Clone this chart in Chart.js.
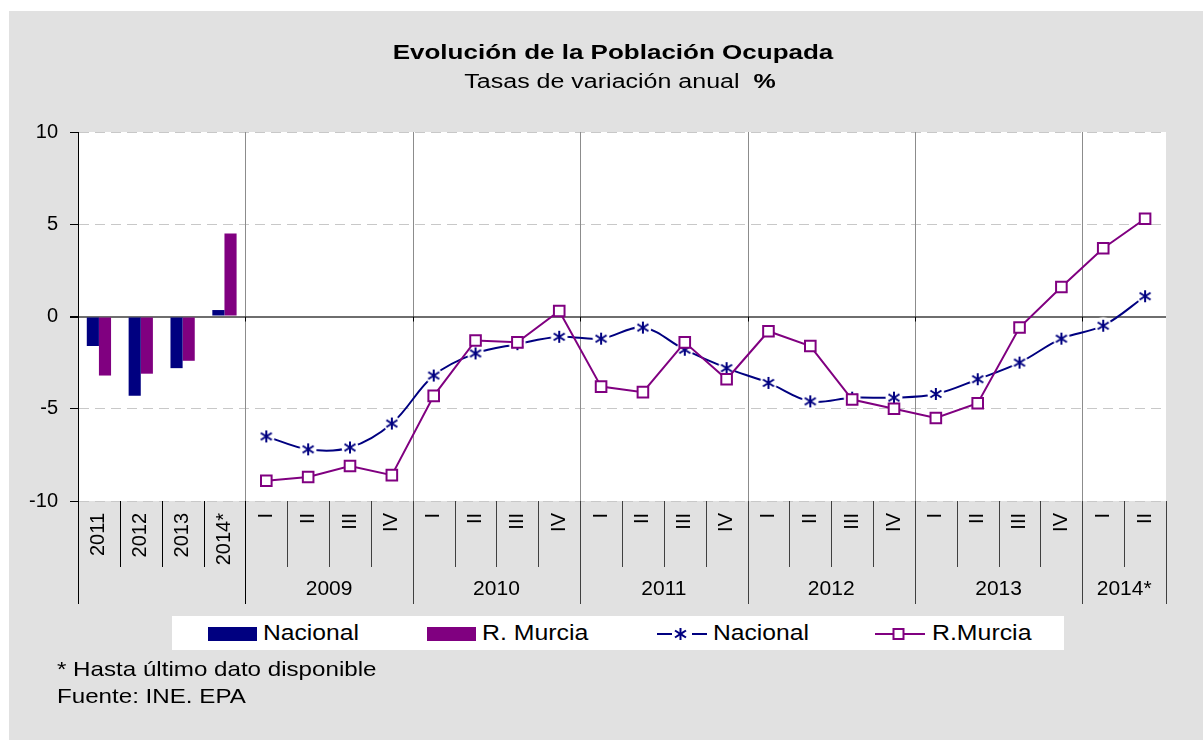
<!DOCTYPE html>
<html lang="es">
<head>
<meta charset="utf-8">
<title>Evolución de la Población Ocupada</title>
<script src="https://cdn.jsdelivr.net/npm/chart.js@4.4.1/dist/chart.umd.min.js"></script>
<style>
  html, body { margin: 0; width: 1203px; height: 740px; overflow: hidden; background: #fff; }
  body { font-family: 'Liberation Sans', Arial, sans-serif; position: relative; }
  #frame { position: absolute; left: 9px; top: 11px; right: 0; bottom: 0; background: #e1e1e1; }
  #chart { position: absolute; left: 0; top: 0; }
  .txt { position: absolute; white-space: nowrap; line-height: 1; color: #000; }
  .left { transform-origin: 0 0; }
  #legend { position: absolute; left: 172px; top: 616px; width: 892px; height: 34px; background: #fff; }
  .sw { position: absolute; top: 627px; width: 49px; height: 14px; }
</style>
</head>
<body>
<div id="frame"></div>
<canvas id="chart" width="1203" height="740"></canvas>

<div class="txt" style="left:613px; top:42px; font-size:20px; font-weight:bold; transform:translateX(-50%) scaleX(1.3);">Evolución de la Población Ocupada</div>
<div class="txt" style="left:620px; top:71px; font-size:20px; transform:translateX(-50%) scaleX(1.25);">Tasas de variación anual&nbsp; <b>%</b></div>

<div id="legend"></div>
<div class="sw" style="left:208px; background:#000080;"></div>
<div class="txt left" style="left:263px; top:622px; font-size:22px; transform:scaleX(1.12);">Nacional</div>
<div class="sw" style="left:427px; background:#800080;"></div>
<div class="txt left" style="left:482px; top:622px; font-size:22px; transform:scaleX(1.13);">R. Murcia</div>
<svg style="position:absolute; left:655px; top:624px;" width="54" height="20">
  <line x1="2" y1="10" x2="17" y2="10" stroke="#000080" stroke-width="2"/>
  <line x1="37" y1="10" x2="52" y2="10" stroke="#000080" stroke-width="2"/>
  <g stroke="#000080" stroke-width="2">
    <line x1="25.5" y1="4" x2="25.5" y2="16"/>
    <line x1="20" y1="6.5" x2="31" y2="13.5"/>
    <line x1="20" y1="13.5" x2="31" y2="6.5"/>
  </g>
</svg>
<div class="txt left" style="left:713px; top:622px; font-size:22px; transform:scaleX(1.12);">Nacional</div>
<svg style="position:absolute; left:873px; top:624px;" width="54" height="20">
  <line x1="2" y1="10" x2="52" y2="10" stroke="#800080" stroke-width="2"/>
  <rect x="20.5" y="5" width="10" height="10" fill="#fff" stroke="#800080" stroke-width="2"/>
</svg>
<div class="txt left" style="left:932px; top:622px; font-size:22px; transform:scaleX(1.13);">R.Murcia</div>

<div class="txt left" style="left:57px; top:658px; font-size:21px; transform:scaleX(1.15);">* Hasta último dato disponible</div>
<div class="txt left" style="left:57px; top:685px; font-size:21px; transform:scaleX(1.15);">Fuente: INE. EPA</div>

<script>
const annualLabels = ['2011', '2012', '2013', '2014*'];
const quarterLabels = ['I', 'II', 'III', 'IV', 'I', 'II', 'III', 'IV', 'I', 'II', 'III', 'IV',
                       'I', 'II', 'III', 'IV', 'I', 'II', 'III', 'IV', 'I', 'II'];
const yearGroups = ['2009', '2010', '2011', '2012', '2013', '2014*'];
const yearGroupSizes = [4, 4, 4, 4, 4, 2];

// media anual
const barNacional = [-1.6, -4.3, -2.8, 0.35];
const barMurcia = [-3.2, -3.1, -2.4, 4.5];

// trimestral 2009 I - 2014 II
const lineNacional = [-6.5, -7.2, -7.1, -5.8, -3.2, -2.0, -1.5, -1.1, -1.2, -0.6, -1.8, -2.8,
                      -3.6, -4.6, -4.4, -4.4, -4.2, -3.4, -2.5, -1.2, -0.5, 1.1];
const lineMurcia = [-8.9, -8.7, -8.1, -8.6, -4.3, -1.3, -1.4, 0.3, -3.8, -4.1, -1.4, -3.4,
                    -0.8, -1.6, -4.5, -5.0, -5.5, -4.7, -0.6, 1.6, 3.7, 5.3];

const labels = annualLabels.concat(quarterLabels);
const blanks = n => Array(n).fill(null);
const font = 'Liberation Sans, Arial, sans-serif';

function starMarker() {
    const c = document.createElement('canvas');
    c.width = 22; c.height = 22;
    const g = c.getContext('2d');
    g.fillStyle = '#fff';
    g.beginPath(); g.arc(11, 11, 8.5, 0, Math.PI * 2); g.fill();
    g.strokeStyle = '#000080'; g.lineWidth = 2;
    g.beginPath();
    g.moveTo(11, 5); g.lineTo(11, 17);
    g.moveTo(5.5, 7.5); g.lineTo(16.5, 14.5);
    g.moveTo(5.5, 14.5); g.lineTo(16.5, 7.5);
    g.stroke();
    return c;
}

// bordes de categoria: indice i -> pixel a la izquierda de la categoria i
function edge(x, i) {
    const w = x.getPixelForValue(1) - x.getPixelForValue(0);
    return x.getPixelForValue(0) + (i - 0.5) * w;
}

const yearStarts = [];
let acc = annualLabels.length;
yearGroupSizes.forEach(n => { yearStarts.push(acc); acc += n; });

const decor = {
    id: 'decor',
    beforeDraw(chart) {
        const { ctx, chartArea: a } = chart;
        ctx.save();
        ctx.fillStyle = '#fff';
        ctx.fillRect(a.left, a.top, a.right - a.left, a.bottom - a.top);
        ctx.restore();
    },
    beforeDatasetsDraw(chart) {
        const { ctx, chartArea: a, scales: { x, y } } = chart;
        const y0 = y.getPixelForValue(0);
        ctx.save();
        ctx.lineWidth = 1;
        yearStarts.forEach(i => {
            const px = Math.round(edge(x, i)) + 0.5;
            ctx.strokeStyle = '#8c8c8c';
            ctx.beginPath(); ctx.moveTo(px, a.top); ctx.lineTo(px, a.bottom); ctx.stroke();
            ctx.strokeStyle = '#000';
            ctx.beginPath(); ctx.moveTo(px, y0); ctx.lineTo(px, y0 + 5); ctx.stroke();
        });
        ctx.restore();
    },
    afterDraw(chart) {
        const { ctx, chartArea: a, scales: { x } } = chart;
        const longEnd = a.bottom + 103, shortEnd = a.bottom + 66;
        ctx.save();
        ctx.lineWidth = 1;
        for (let i = 0; i <= labels.length; i++) {
            const px = Math.round(edge(x, i)) + 0.5;
            const isLong = i === 0 || i === labels.length || yearStarts.includes(i);
            ctx.strokeStyle = i <= annualLabels.length ? '#000' : '#404040';
            ctx.beginPath();
            ctx.moveTo(px, a.bottom);
            ctx.lineTo(px, isLong ? longEnd : shortEnd);
            ctx.stroke();
        }
        ctx.fillStyle = '#000';
        ctx.font = '21px ' + font;
        ctx.textAlign = 'center';
        ctx.textBaseline = 'middle';
        yearGroups.forEach((name, k) => {
            const s = yearStarts[k], e = s + yearGroupSizes[k];
            ctx.fillText(name, (edge(x, s) + edge(x, e)) / 2, a.bottom + 88);
        });
        ctx.restore();
    }
};

new Chart(document.getElementById('chart'), {
    type: 'bar',
    data: {
        labels: labels,
        datasets: [
            {
                type: 'bar', label: 'Nacional',
                data: barNacional.concat(blanks(quarterLabels.length)),
                backgroundColor: '#000080',
                categoryPercentage: 0.58, barPercentage: 1,
                order: 2
            },
            {
                type: 'bar', label: 'R. Murcia',
                data: barMurcia.concat(blanks(quarterLabels.length)),
                backgroundColor: '#800080',
                categoryPercentage: 0.58, barPercentage: 1,
                order: 2
            },
            {
                type: 'line', label: 'Nacional',
                data: blanks(annualLabels.length).concat(lineNacional),
                borderColor: '#000080', borderWidth: 2,
                tension: 0.35,
                pointStyle: starMarker(),
                order: 1
            },
            {
                type: 'line', label: 'R.Murcia',
                data: blanks(annualLabels.length).concat(lineMurcia),
                borderColor: '#800080', borderWidth: 2,
                tension: 0,
                pointStyle: 'rect', pointRadius: 7.5,
                pointBackgroundColor: '#fff', pointBorderColor: '#800080', pointBorderWidth: 2,
                order: 0
            }
        ]
    },
    options: {
        responsive: false,
        animation: false,
        layout: { padding: { top: 132, left: 0, right: 37, bottom: 136 } },
        plugins: {
            legend: { display: false },
            title: { display: false },
            tooltip: { enabled: false }
        },
        scales: {
            x: {
                grid: { display: false, drawTicks: false },
                border: { display: false },
                ticks: {
                    autoSkip: false, minRotation: 90, maxRotation: 90,
                    color: '#000', padding: 12,
                    font: { family: font, size: 20 }
                },
                afterFit: s => { s.height = 103; }
            },
            y: {
                min: -10, max: 10,
                ticks: {
                    stepSize: 5, color: '#000', padding: 12,
                    font: { family: font, size: 20 }
                },
                grid: {
                    color: c => c.tick.value === 0 ? '#6e6e6e' : '#c8c8c8',
                    lineWidth: c => c.tick.value === 0 ? 2 : 1,
                    tickColor: '#000', tickLength: 8
                },
                border: {
                    color: '#000', width: 1,
                    dash: c => c.tick && c.tick.value === 0 ? [] : [10, 6]
                },
                afterFit: s => { s.width = 78; }
            }
        }
    },
    plugins: [decor]
});
</script>
</body>
</html>
